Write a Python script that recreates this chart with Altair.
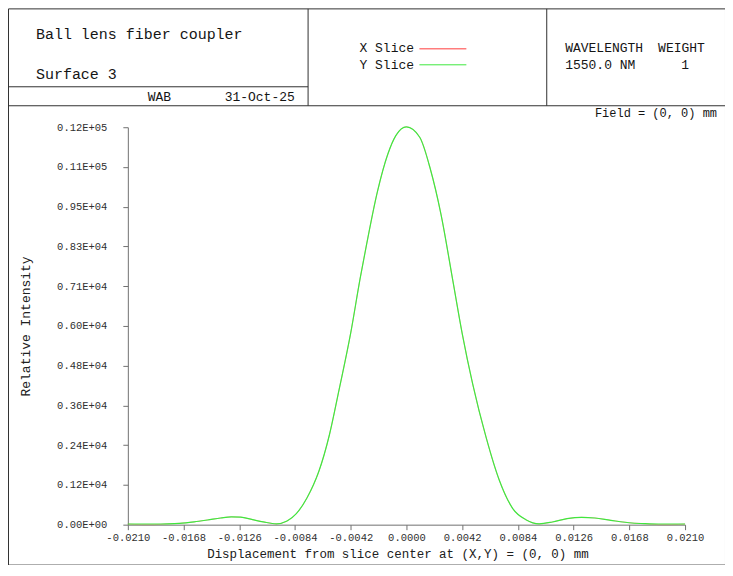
import altair as alt
import pandas as pd

# ---------------- data ----------------
x_mm = [-0.0210, -0.0200, -0.0190, -0.0180, -0.0171, -0.0160, -0.0150, -0.0140,
        -0.0132, -0.0125, -0.0116, -0.0108, -0.0098, -0.0090, -0.0083, -0.0075,
        -0.0070, -0.0066, -0.0058, -0.0051, -0.0042, -0.0035, -0.0030, -0.0022,
        -0.0014, -0.0008, 0.0000, 0.0010, 0.0018, 0.0026, 0.0035, 0.0042,
        0.0050, 0.0060, 0.0070, 0.0080, 0.0090, 0.0100, 0.0110, 0.0121,
        0.0132, 0.0142, 0.0154, 0.0170, 0.0180, 0.0190, 0.0200, 0.0210]
y_slice = [20, 20, 20, 25, 40, 85, 140, 200, 235, 225, 150, 85, 25, 110, 330, 800,
           1200, 1600, 2700, 4000, 5740, 7350, 8400, 9950, 11100, 11650, 11910, 11600,
           10650, 9300, 7300, 5730, 4200, 2620, 1330, 490, 150, 25, 80, 180,
           220, 200, 130, 50, 30, 20, 20, 20]
x_slice = [20, 0, 0, 25, 40, 85, 140, 200, 235, 225, 150, 85, 25, 110, 330, 800,
           1200, 1600, 2700, 4000, 5740, 7350, 8400, 9950, 11100, 11650, 11910, 11600,
           10650, 9300, 7300, 5730, 4200, 2620, 1330, 490, 150, 25, 80, 180,
           220, 200, 130, 50, 30, 0, 0, 20]

y_tick_values = [0, 1190, 2380, 3570, 4760, 5950, 7140, 8330, 9520, 10710, 11900]
y_tick_labels = ["0.00E+00", "0.12E+04", "0.24E+04", "0.36E+04", "0.48E+04", "0.60E+04",
                 "0.71E+04", "0.83E+04", "0.95E+04", "0.11E+05", "0.12E+05"]
x_tick_values = [-0.0210, -0.0168, -0.0126, -0.0084, -0.0042, 0.0, 0.0042, 0.0084,
                 0.0126, 0.0168, 0.0210]
x_tick_labels = ["-0.0210", "-0.0168", "-0.0126", "-0.0084", "-0.0042", "0.0000",
                 "0.0042", "0.0084", "0.0126", "0.0168", "0.0210"]

series_names = ["X Slice", "Y Slice"]
series_colors = ["#ff3b3b", "#3ee83e"]

title_lines = ["Ball lens fiber coupler", "Surface 3"]
footer_left = ["WAB", "31-Oct-25"]
wave_header = ["WAVELENGTH", "WEIGHT"]
wave_row = ["1550.0 NM", "1"]
field_text = "Field = (0, 0) mm"
x_title = "Displacement from slice center at (X,Y) = (0, 0) mm"
y_title = "Relative Intensity"

# ---------------- layout ----------------
FONT = "Liberation Mono"
W, H = 558, 398
OX, OY = 128, 127  # page position of plot origin


def px(x):
    return x - OX


def py(y):
    return y - OY


one = pd.DataFrame({"k": [0]})

df_x = pd.DataFrame({"x": x_mm, "y": x_slice})
df_y = pd.DataFrame({"x": x_mm, "y": y_slice})

ylab_expr = "[" + ",".join(f"'{s}'" for s in y_tick_labels) + "][round(datum.value/1190)]"
xlab_expr = "[" + ",".join(f"'{s}'" for s in x_tick_labels) + "][round((datum.value+0.021)/0.0042)]"

xenc = alt.X("x:Q", scale=alt.Scale(domain=[-0.021, 0.021], nice=False, zero=False),
             axis=alt.Axis(values=x_tick_values, labelExpr=xlab_expr, title=x_title,
                           grid=False, tickSize=5, labelPadding=3, labelFont=FONT,
                           labelFontSize=10.5, labelColor="#303030", domainColor="#707070",
                           tickColor="#707070", titleFont=FONT, titleFontSize=12.5,
                           titleFontWeight="normal", titleColor="#202020",
                           titleX=270, titleY=29, titleBaseline="middle",
                           labelFlush=False, labelOverlap=False))
yenc = alt.Y("y:Q", scale=alt.Scale(domain=[0, 11900], nice=False),
             axis=alt.Axis(values=y_tick_values, labelExpr=ylab_expr, title=y_title,
                           grid=False, tickSize=5, labelPadding=16, labelFont=FONT,
                           labelFontSize=10.5, labelColor="#303030", domainColor="#707070",
                           tickColor="#707070", titleFont=FONT, titleFontSize=13,
                           titleFontWeight="normal", titleColor="#202020",
                           titleX=-102, titleY=199, titleAngle=-90,
                           titleBaseline="middle", titleAlign="center",
                           labelOverlap=False))

line_x = alt.Chart(df_x).mark_line(color=series_colors[0], strokeWidth=0.4,
                                   interpolate="monotone").encode(x=xenc, y=yenc)
line_y = alt.Chart(df_y).mark_line(color=series_colors[1], strokeWidth=1.2,
                                   interpolate="monotone").encode(x=xenc, y=yenc)

layers = [line_x, line_y]

FRAME = "#303030"


def rule(x1, y1, x2, y2, color=FRAME, w=1):
    return alt.Chart(one).mark_rule(color=color, strokeWidth=w).encode(
        x=alt.value(px(x1)), x2=alt.value(px(x2)),
        y=alt.value(py(y1)), y2=alt.value(py(y2)))


def text(t, x, y, size=13, align="left", color="#151515"):
    return alt.Chart(one).mark_text(text=t, font=FONT, fontSize=size, align=align,
                                    baseline="middle", color=color).encode(
        x=alt.value(px(x)), y=alt.value(py(y)))


# frame
layers += [
    rule(8.5, 8.5, 726.5, 8.5),
    rule(8.5, 565.5, 726.5, 565.5),
    rule(8.5, 8.5, 8.5, 565.5),
    rule(726.5, 8.5, 726.5, 565.5),
    rule(8.5, 105.5, 726.5, 105.5),
    rule(8.5, 86.5, 308.5, 86.5),
    rule(308.5, 8.5, 308.5, 105.5),
    rule(547.5, 8.5, 547.5, 105.5),
]

# header text
layers += [
    text(title_lines[0], 36, 34, size=15),
    text(title_lines[1], 36, 74, size=15),
    text(footer_left[0], 148, 97),
    text(footer_left[1], 225, 97),
    text(series_names[0], 360, 48),
    text(series_names[1], 360, 65),
    rule(420, 48.5, 467, 48.5, color=series_colors[0]),
    rule(420, 64.5, 467, 64.5, color=series_colors[1]),
    text(wave_header[0], 566, 48),
    text(wave_header[1], 659, 48),
    text(wave_row[0], 566, 65),
    text(wave_row[1], 686, 65, align="center"),
    text(field_text, 718, 113, size=12, align="right"),
]

chart = alt.layer(*layers).properties(
    width=W, height=H,
    autosize=alt.AutoSizeParams(type="none"),
    padding={"left": OX - 8, "top": OY - 8, "right": 40, "bottom": 40},
    background="white",
).configure_view(stroke=None)

chart.save("out.html", embed_options={"renderer": "svg", "actions": False})
